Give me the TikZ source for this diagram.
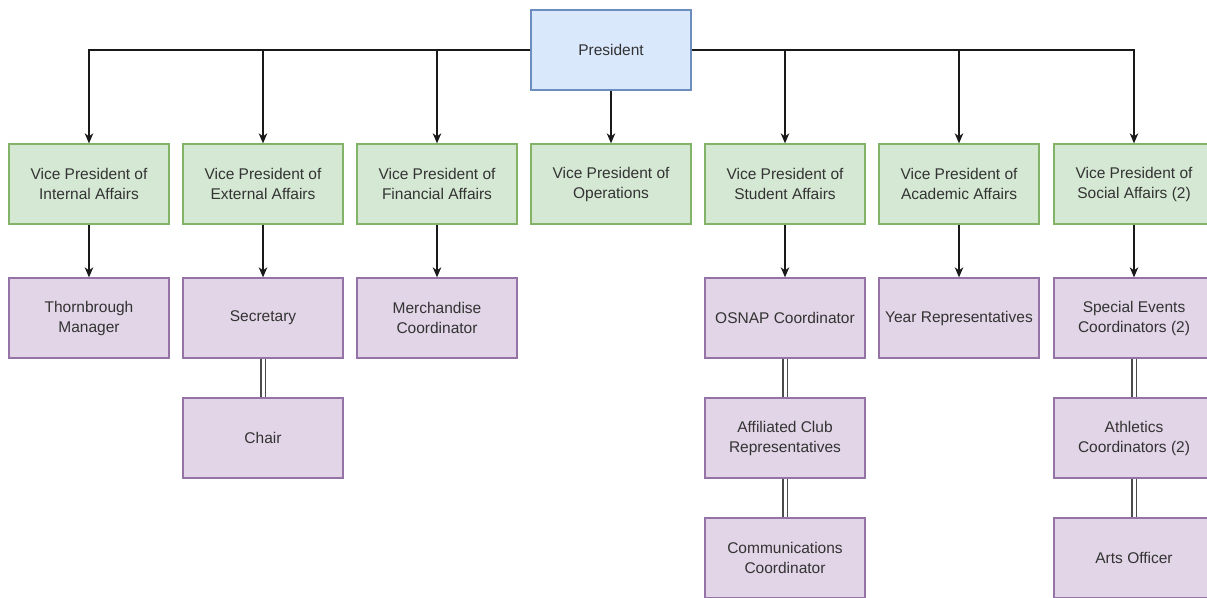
\documentclass[tikz,border=0pt]{standalone}
\usepackage{fontspec}
\setmainfont{Liberation Sans}
\usetikzlibrary{arrows.meta}
\definecolor{presfill}{HTML}{DAE8FC}
\definecolor{presdraw}{HTML}{6C8EBF}
\definecolor{vpfill}{HTML}{D5E8D4}
\definecolor{vpdraw}{HTML}{82B366}
\definecolor{subfill}{HTML}{E1D5E7}
\definecolor{subdraw}{HTML}{9673A6}
\definecolor{txt}{HTML}{333333}
\tikzset{
  box/.style={rectangle, minimum width=160pt, minimum height=80pt, inner sep=2pt,
    line width=1.3pt, align=center, text=txt, font=\fontsize{15.5}{20}\selectfont},
  presbox/.style={box, fill=presfill, draw=presdraw},
  vpbox/.style={box, fill=vpfill, draw=vpdraw},
  subbox/.style={box, fill=subfill, draw=subdraw},
  arr/.style={line width=1.3pt, draw=black!90, -{Stealth[length=10pt,width=8.5pt,inset=3pt]}},
  linkline/.style={draw=black!70, line width=1.4pt, double=white, double distance=3pt}
}
\begin{document}
\begin{tikzpicture}[x=1pt,y=-1pt]
\useasboundingbox[fill=white] (0,0) rectangle (1207,597);
\node[presbox] (pres) at (611,50) {President};
\node[vpbox] (vp1) at (89,184) {Vice President of\\Internal Affairs};
\node[vpbox] (vp2) at (263,184) {Vice President of\\External Affairs};
\node[vpbox] (vp3) at (437,184) {Vice President of\\Financial Affairs};
\node[vpbox] (vp4) at (611,184) {Vice President of\\Operations};
\node[vpbox] (vp5) at (785,184) {Vice President of\\Student Affairs};
\node[vpbox] (vp6) at (959,184) {Vice President of\\Academic Affairs};
\node[vpbox] (vp7) at (1134,184) {Vice President of\\Social Affairs (2)};
\node[subbox] (thorn) at (89,318) {Thornbrough\\Manager};
\node[subbox] (sec) at (263,318) {Secretary};
\node[subbox] (chair) at (263,438) {Chair};
\node[subbox] (merch) at (437,318) {Merchandise\\Coordinator};
\node[subbox] (osnap) at (785,318) {OSNAP Coordinator};
\node[subbox] (club) at (785,438) {Affiliated Club\\Representatives};
\node[subbox] (comm) at (785,558) {Communications\\Coordinator};
\node[subbox] (year) at (959,318) {Year Representatives};
\node[subbox] (special) at (1134,318) {Special Events\\Coordinators (2)};
\node[subbox] (athl) at (1134,438) {Athletics\\Coordinators (2)};
\node[subbox] (arts) at (1134,558) {Arts Officer};
% president connectors
\draw[arr] (pres.west) -| (vp1.north);
\draw[arr] (pres.west) -| (vp2.north);
\draw[arr] (pres.west) -| (vp3.north);
\draw[arr] (pres.south) -- (vp4.north);
\draw[arr] (pres.east) -| (vp5.north);
\draw[arr] (pres.east) -| (vp6.north);
\draw[arr] (pres.east) -| (vp7.north);
% vp to sub
\draw[arr] (vp1.south) -- (thorn.north);
\draw[arr] (vp2.south) -- (sec.north);
\draw[arr] (vp3.south) -- (merch.north);
\draw[arr] (vp5.south) -- (osnap.north);
\draw[arr] (vp6.south) -- (year.north);
\draw[arr] (vp7.south) -- (special.north);
% links
\draw[linkline] (sec.south) -- (chair.north);
\draw[linkline] (osnap.south) -- (club.north);
\draw[linkline] (club.south) -- (comm.north);
\draw[linkline] (special.south) -- (athl.north);
\draw[linkline] (athl.south) -- (arts.north);
\end{tikzpicture}
\end{document}
